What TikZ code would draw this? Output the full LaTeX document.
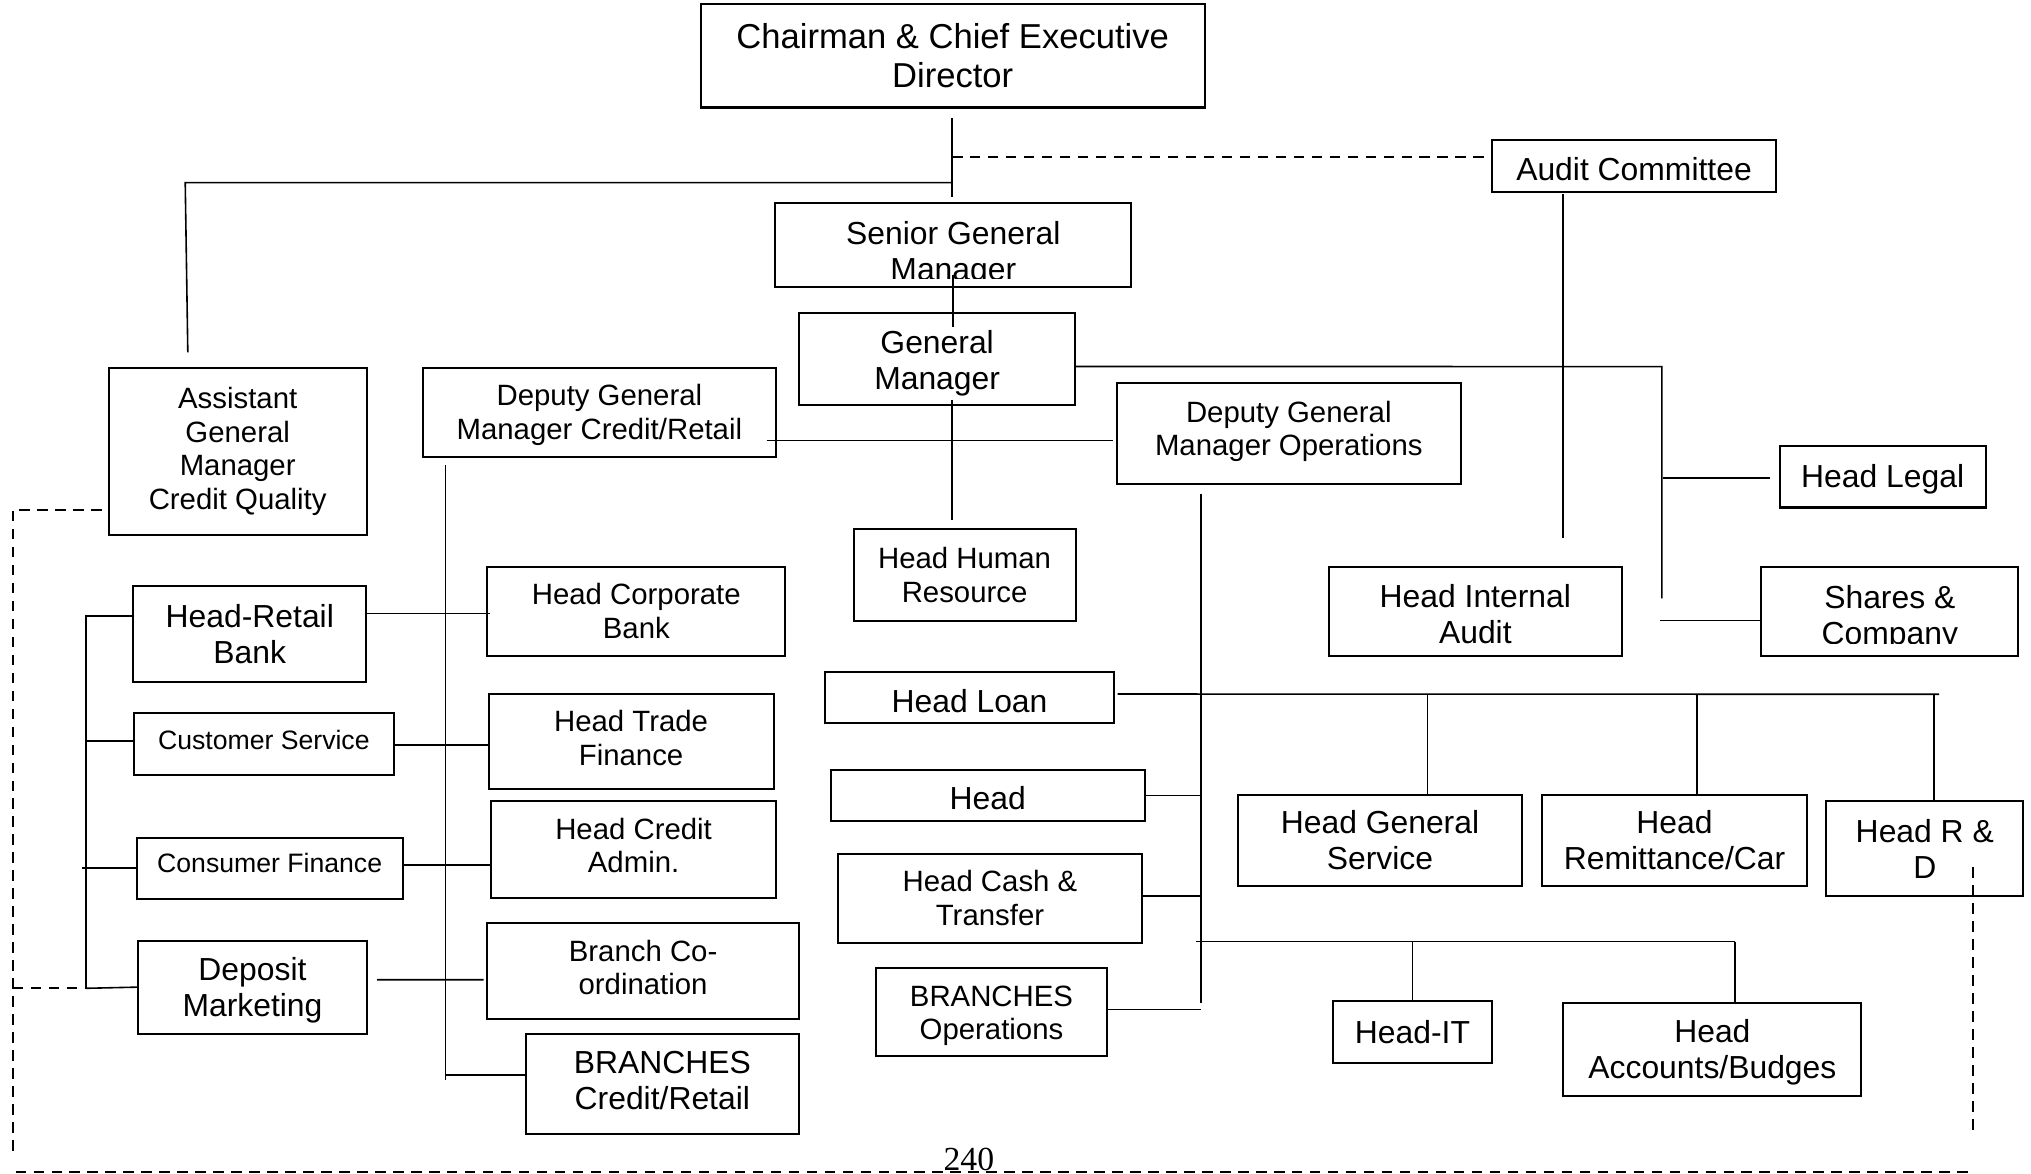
\documentclass[tikz,border=0pt]{standalone}
\usepackage{fontspec}
\setmainfont{Liberation Sans}
\newfontfamily\pagefont{Liberation Serif}
\usetikzlibrary{calc}
\newcommand\orgchair{\fontsize{15.2}{17}\selectfont}
\newcommand\orgbig{\fontsize{14}{15.9}\selectfont}
\newcommand\orgmid{\fontsize{12.9}{14.8}\selectfont}
\newcommand\orgsmall{\fontsize{11.7}{13}\selectfont}
\newcommand\textdrop[1]{\rule{0pt}{\dimexpr0.73em+#1\relax}}

\begin{document}
\begin{tikzpicture}[x=0.02cm, y=-0.02cm,
  box/.style={draw, line width=0.9pt, align=center, inner sep=0pt},
  big/.style={font=\orgbig}, mid/.style={font=\orgmid}, small/.style={font=\orgsmall},
  textup/.style={execute at end node={\rule[-#1]{0pt}{#1}}},
  link/.style={line width=0.7pt},
  dashlink/.style={line width=0.9pt, dash pattern=on 4.6pt off 3.3pt}]
  \useasboundingbox (0,0) rectangle (1568,906);

  % top of the chart
  \node[box, font=\orgchair, minimum width=7.78cm, minimum height=1.6cm] (chair) at (735.5,43) {Chairman \& Chief Executive\\Director};
  \node[box, big, minimum width=4.38cm, minimum height=0.8cm] (audit) at (1261.5,128) {\textdrop{3.2pt}Audit Committee};
  \node[box, minimum width=5.51cm, minimum height=1.29cm] (sgm) at (735.75,189.25) {};
  \node[box, big, minimum width=4.26cm, minimum height=1.426cm] (gm) at (723.5,277.35) {\textdrop{3.2pt}General\\Manager};

  % second level
  \node[box, mid, minimum width=3.98cm, minimum height=2.58cm] (agm) at (183.5,348.5) {Assistant\\General\\Manager\\Credit Quality};
  \node[box, mid, minimum width=5.45cm, minimum height=1.38cm] (dgmcr) at (462.75,318.5) {\textdrop{2.2pt}Deputy General\\Manager Credit/Retail};
  \node[box, mid, textup=4.8pt, minimum width=5.32cm, minimum height=1.554cm] (dgmops) at (995,334.85) {Deputy General\\Manager Operations};
  \node[box, big, minimum width=3.18cm, minimum height=0.956cm] (legal) at (1453.5,367.9) {\textdrop{2.2pt}Head Legal};
  \node[box, mid, minimum width=3.428cm, minimum height=1.414cm] (hr) at (744.7,443.85) {Head Human\\Resource};
  \node[box, big, minimum width=4.52cm, minimum height=1.378cm] (intaudit) at (1139,471.95) {\textdrop{2.6pt}Head Internal\\Audit};
  \node[box, minimum width=3.968cm, minimum height=1.38cm] (shares) at (1458.8,472) {};

  % credit and retail side
  \node[box, big, minimum width=3.594cm, minimum height=1.476cm] (retail) at (192.85,489.5) {Head-Retail\\Bank};
  \node[box, small, textup=3.2pt, minimum width=4.008cm, minimum height=0.956cm] (custsvc) at (203.7,574.1) {Customer Service};
  \node[box, small, textup=4.2pt, minimum width=4.108cm, minimum height=0.944cm] (consfin) at (208.2,670.2) {Consumer Finance};
  \node[box, big, minimum width=3.536cm, minimum height=1.44cm] (deposit) at (194.9,762.1) {\textdrop{2.6pt}Deposit\\Marketing};
  \node[box, mid, minimum width=4.602cm, minimum height=1.378cm] (corp) at (491.25,471.95) {Head Corporate\\Bank};
  \node[box, mid, textup=3.2pt, minimum width=4.4cm, minimum height=1.458cm] (trade) at (487.2,572.45) {Head Trade\\Finance};
  \node[box, mid, textup=3.8pt, minimum width=4.398cm, minimum height=1.5cm] (credit) at (489.15,656) {Head Credit\\Admin.};
  \node[box, mid, textup=3.2pt, minimum width=4.812cm, minimum height=1.482cm] (branchco) at (496.5,749.65) {Branch Co-\\ordination};
  \node[box, big, textup=3pt, minimum width=4.218cm, minimum height=1.542cm] (brcr) at (511.35,836.65) {BRANCHES\\Credit/Retail};

  % operations side
  \node[box, big, minimum width=4.46cm, minimum height=0.792cm] (loan) at (748.5,538.3) {\textdrop{3.2pt}Head Loan};
  \node[box, big, minimum width=4.844cm, minimum height=0.786cm] (head) at (762.6,614.05) {\textdrop{2.2pt}Head};
  \node[box, mid, minimum width=4.692cm, minimum height=1.38cm] (cash) at (764.3,693.5) {Head Cash \&\\Transfer};
  \node[box, mid, minimum width=3.554cm, minimum height=1.36cm] (brops) at (765.45,781) {\textdrop{3.2pt}BRANCHES\\Operations};
  \node[box, big, minimum width=4.384cm, minimum height=1.402cm] (general) at (1065.4,648.75) {Head General\\Service};
  \node[box, big, minimum width=4.088cm, minimum height=1.402cm] (remit) at (1292.8,648.75) {Head\\Remittance/Car};
  \node[box, big, minimum width=3.04cm, minimum height=1.464cm] (rnd) at (1486,655.1) {Head R \&\\D};
  \node[box, big, minimum width=2.46cm, minimum height=0.948cm] (it) at (1090.5,796.7) {Head-IT};
  \node[box, big, minimum width=4.6cm, minimum height=1.438cm] (accounts) at (1322,810.45) {\textdrop{2.2pt}Head\\Accounts/Budges};

  % texts cut off by their boxes
  \begin{scope}
    \clip (sgm.north west) rectangle (873,215);
    \node[big, align=center] (sgmtext) at (736,196) {Senior General\\Manager};
  \end{scope}
  \begin{scope}
    \clip (shares.north west) rectangle (1558,497);
    \node[big, align=center] (sharestext) at (1459,477) {Shares \&\\Company};
  \end{scope}

  \node[font=\pagefont\fontsize{14.8}{18}\selectfont, inner sep=0pt] (page) at (748,895.5) {240};

  % free ends of the lines
  \coordinate (ceo) at (735,91);
  \coordinate (agmbar) at (143,141);
  \coordinate (agmend) at (145,272);
  \coordinate (acbar) at (1206.6,150);
  \coordinate (acend) at (1206.6,415);
  \coordinate (gmbar) at (1283,283);
  \coordinate (gmend) at (1283,462);
  \coordinate (crbar) at (344,359);
  \coordinate (crend) at (344,834);
  \coordinate (opsbar) at (927,381);
  \coordinate (opsend) at (927,774);
  \coordinate (loanend) at (1497,536);
  \coordinate (gsdrop) at (1102,536);
  \coordinate (rmdrop) at (1310,536);
  \coordinate (rddrop) at (1493,536);
  \coordinate (itbar) at (923,727);
  \coordinate (itend) at (1339.5,727);
  \coordinate (rbbar) at (66.3,474.6);
  \coordinate (rbend) at (66.3,763);
  \coordinate (dashtop) at (10,393.6);
  \coordinate (dashend) at (10,890);
  \coordinate (pagel) at (12,905);
  \coordinate (pager) at (1523,905);
  \coordinate (rndend) at (1523,872);

  % chairman down the middle
  \draw[link] (ceo) -- ++(0,61);
  \draw[link] ($(sgm.south)+(0,-10)$) -- ++(0,40.5);
  \draw[link] ($(gm.south -| ceo)+(0,-5)$) -- ($(hr.north -| ceo)+(0,-6)$);
  \draw[dashlink] ($(ceo)+(0,30)$) -- ($(audit.west)+(-5,-7)$);
  \draw[link] ($(ceo)+(0,50)$) -- (agmbar) -- (agmend);
  \draw[link] (acbar) -- (acend);
  \draw[link] ($(gm.east)+(0,5.6)$) -- (gmbar) -- (gmend);
  \draw[link] ($(gmbar |- legal.west)+(1,1)$) -- ($(legal.west)+(-7,1)$);
  \draw[link] ($(gmbar |- shares.west)+(-1.4,7)$) -- ($(shares.west)+(0,7)$);
  \draw[link] ($(dgmcr.east)+(-8,21.5)$) -- ($(dgmops.west)+(-2,5.15)$);

  % operations lines
  \draw[link] (opsbar) -- (opsend);
  \draw[link] (head.east) -- (head.east -| opsbar);
  \draw[link] ($(cash.east)+(0,-1.8)$) -- ++(43.7,0);
  \draw[link] ($(brops.east)+(0,-1.7)$) -- ($(brops.east -| opsbar)+(0,-1.7)$);
  \draw[link] (itbar) -- (itend);
  \draw[link] (it.north |- itbar) -- (it.north);
  \draw[link] (itend) -- (itend |- accounts.north);
  \draw[link] ($(loan.east)+(2,-2.5)$) -- (loanend);
  \draw[link] (gsdrop) -- (gsdrop |- general.north);
  \draw[link] (rmdrop) -- (rmdrop |- remit.north);
  \draw[link] (rddrop) -- (rddrop |- rnd.north);

  % credit and retail lines
  \draw[link] (crbar) -- (crend);
  \draw[link] ($(retail.east)+(0,-15.8)$) -- ++(94.5,0);
  \draw[link] ($(custsvc.east)+(0,1.2)$) -- ++(72.1,0);
  \draw[link] ($(consfin.east)+(0,-2.4)$) -- ++(67.1,0);
  \draw[link] ($(deposit.east)+(7,-5.7)$) -- ($(branchco.west)+(-2,6.75)$);
  \draw[link] ($(crend)+(0,-4)$) -- ($(brcr.west)+(0,-6.65)$);
  \draw[link] (rbbar) -- (rbend);
  \draw[link] ($(retail.west)+(0,-13.9)$) -- ++(-36.7,0);
  \draw[link] ($(custsvc.west)+(0,-2.1)$) -- ++(-37.2,0);
  \draw[link] (consfin.west) -- ++(-41.5,0);
  \draw[link] (deposit.west) -- (rbend);

  % dashed reporting lines
  \draw[dashlink] ($(agm.west)+(-4.6,45.1)$) -- (dashtop) -- (dashend);
  \draw[dashlink] (dashtop |- rbend) -- (rbend);
  \draw[dashlink] (pagel) -- (pager);
  \draw[dashlink] (rndend) -- ($(rnd.south)+(37,-27.2)$);
\end{tikzpicture}
\end{document}
